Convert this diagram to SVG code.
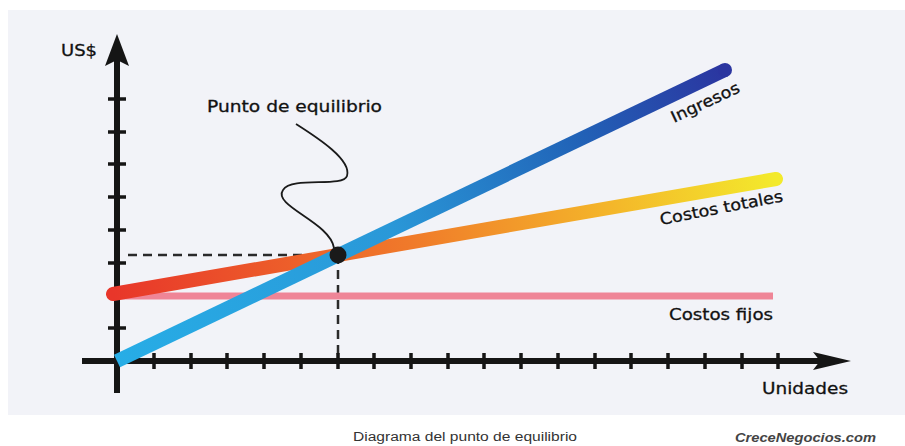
<svg xmlns="http://www.w3.org/2000/svg" width="905" height="446" viewBox="0 0 905 446">
<defs>
<style>
.lbl{font-family:"DejaVu Sans","Liberation Sans",sans-serif;font-size:16px;fill:#111;stroke:#111;stroke-width:0.3}
.ax{stroke:#151515;stroke-width:6;fill:none}
.tick{stroke:#151515;stroke-width:3.5}
.dash{stroke:#2a2a2a;stroke-width:2.5;stroke-dasharray:9 6;fill:none}
</style>
<linearGradient id="gTot" gradientUnits="userSpaceOnUse" x1="113" y1="294" x2="776" y2="179">
<stop offset="0" stop-color="#e8362a"/>
<stop offset="0.45" stop-color="#f07a2a"/>
<stop offset="0.75" stop-color="#f4b62a"/>
<stop offset="1" stop-color="#f3ea2c"/>
</linearGradient>
<linearGradient id="gIng" gradientUnits="userSpaceOnUse" x1="117" y1="361" x2="725" y2="70">
<stop offset="0" stop-color="#27ade6"/>
<stop offset="0.45" stop-color="#2a98d8"/>
<stop offset="0.75" stop-color="#2164b8"/>
<stop offset="1" stop-color="#2b35a0"/>
</linearGradient>
</defs>
<rect x="0" y="0" width="905" height="446" fill="#ffffff"/>
<rect x="8" y="10" width="897" height="405" fill="#f2f3f8"/>

<g id="connectors">
<line class="dash" x1="128" y1="255" x2="338" y2="255"/>
<line class="dash" x1="338" y1="255" x2="338" y2="358"/>
<path d="M296,124 C318,138 352,160 347,176 C343,188 292,176 283,190 C272,206 330,222 334,248" fill="none" stroke="#1a1a1a" stroke-width="1.8"/>
</g>

<g id="axes">
<line class="ax" x1="117" y1="60" x2="117" y2="393"/>
<path d="M117,34 L129,66 L117,60 L105,66 Z" fill="#151515"/>
<line class="ax" x1="82" y1="361" x2="822" y2="361"/>
<path d="M851,361 L813,370 L820,361 L813,352 Z" fill="#151515"/>
<g class="tick">
<line x1="108" y1="99" x2="126" y2="99"/>
<line x1="108" y1="132" x2="126" y2="132"/>
<line x1="108" y1="164" x2="126" y2="164"/>
<line x1="108" y1="197" x2="126" y2="197"/>
<line x1="108" y1="230" x2="126" y2="230"/>
<line x1="108" y1="263" x2="126" y2="263"/>
<line x1="108" y1="296" x2="126" y2="296"/>
<line x1="108" y1="328" x2="126" y2="328"/>
<line x1="154" y1="353" x2="154" y2="369"/>
<line x1="191" y1="353" x2="191" y2="369"/>
<line x1="227" y1="353" x2="227" y2="369"/>
<line x1="264" y1="353" x2="264" y2="369"/>
<line x1="301" y1="353" x2="301" y2="369"/>
<line x1="338" y1="353" x2="338" y2="369"/>
<line x1="374" y1="353" x2="374" y2="369"/>
<line x1="411" y1="353" x2="411" y2="369"/>
<line x1="448" y1="353" x2="448" y2="369"/>
<line x1="484" y1="353" x2="484" y2="369"/>
<line x1="521" y1="353" x2="521" y2="369"/>
<line x1="558" y1="353" x2="558" y2="369"/>
<line x1="595" y1="353" x2="595" y2="369"/>
<line x1="631" y1="353" x2="631" y2="369"/>
<line x1="668" y1="353" x2="668" y2="369"/>
<line x1="705" y1="353" x2="705" y2="369"/>
<line x1="742" y1="353" x2="742" y2="369"/>
<line x1="778" y1="353" x2="778" y2="369"/>
</g>
<text class="lbl" x="61" y="56" textLength="36" lengthAdjust="spacingAndGlyphs">US$</text>
<text class="lbl" x="762" y="394" textLength="86" lengthAdjust="spacingAndGlyphs">Unidades</text>
</g>

<g id="costos-fijos">
<line x1="117" y1="296" x2="773" y2="296" stroke="#ef8597" stroke-width="7"/>
<text class="lbl" x="669" y="320" textLength="104" lengthAdjust="spacingAndGlyphs">Costos fijos</text>
</g>

<g id="costos-totales">
<line x1="113" y1="294" x2="776" y2="179" stroke="url(#gTot)" stroke-width="14" stroke-linecap="round"/>
<text class="lbl" x="661" y="225" transform="rotate(-11 661 225)" textLength="125" lengthAdjust="spacingAndGlyphs">Costos totales</text>
</g>

<g id="ingresos">
<line x1="117" y1="361" x2="725" y2="70" stroke="url(#gIng)" stroke-width="14"/>
<circle cx="725" cy="70" r="7" fill="#2b35a0"/>
<text class="lbl" x="674" y="123" transform="rotate(-25 674 123)" textLength="74" lengthAdjust="spacingAndGlyphs">Ingresos</text>
</g>

<g id="punto-equilibrio">
<circle cx="338" cy="255" r="8.5" fill="#1a1a1a"/>
<text class="lbl" x="207" y="112" textLength="175" lengthAdjust="spacingAndGlyphs">Punto de equilibrio</text>
</g>

<g id="caption">
<text x="353" y="441" font-family="Liberation Sans, Arial, sans-serif" font-size="12" fill="#333" textLength="224" lengthAdjust="spacingAndGlyphs">Diagrama del punto de equilibrio</text>
<text x="735" y="442" font-family="Liberation Sans, Arial, sans-serif" font-size="13" font-style="italic" font-weight="bold" fill="#444" textLength="141" lengthAdjust="spacingAndGlyphs">CreceNegocios.com</text>
</g>
</svg>
